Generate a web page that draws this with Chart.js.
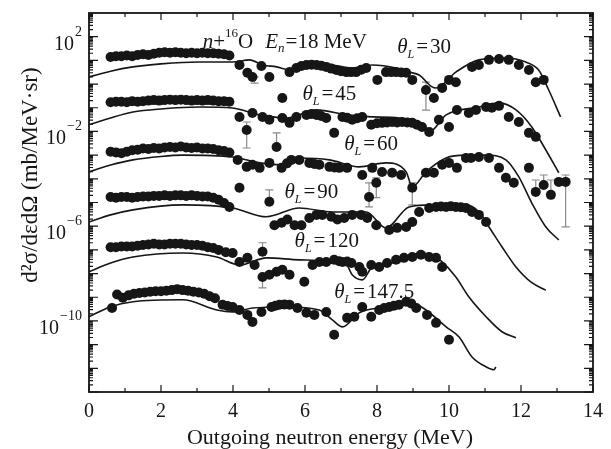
<!DOCTYPE html>
<html>
<head>
<meta charset="utf-8">
<script src="https://cdn.jsdelivr.net/npm/chart.js@4.4.1/dist/chart.umd.min.js"></script>
<style>
html, body { margin: 0; padding: 0; background: #fff; }
#wrap { width: 611px; height: 449px; }
</style>
</head>
<body>
<div id="wrap"><canvas id="c"></canvas></div>
<script>
// outgoing neutron energy (MeV) vs d2sigma/(de dOmega) (mb/MeV/sr)
const dots30 = [[0.6,14],[0.75,15],[0.9,15],[1.05,16],[1.2,15],[1.35,17],[1.5,18],[1.65,17],[1.8,19],[1.95,21],[2.1,22],[2.25,21],[2.4,22],[2.55,21],[2.7,20],[2.85,21],[3.0,20],[3.15,21],[3.3,20],[3.45,20],[3.6,19],[3.75,18],[3.9,16],
  [4.18,6.4],[4.40,3.0],[4.54,2.0],[4.79,5.8],[5.01,2.0],[5.57,3.2],[5.76,4.8],[5.9,5.8],[6.04,6.4],[6.18,6.6],[6.32,6.4],[6.45,6.0],[6.59,5.3],[6.73,4.5],[6.87,3.9],[7.0,3.5],[7.15,3.2],[7.28,3.2],[7.42,3.2],[7.56,4.0],[7.70,4.8],[8.01,1.5],[8.25,3.2],[8.39,3.2],[8.53,3.2],[8.67,3.1],[8.81,3.0],[8.98,1.5],
  [9.36,0.56],[9.58,0.26],[9.81,0.69],[10.0,1.5],[10.19,1.2],[10.64,5.3],[10.83,6.4],[11.11,10.5],[11.39,11.5],[11.66,10.5],[11.94,6.4],[12.22,3.9],[12.41,1.2],[12.63,1.5]];
const curve30 = [[0,2.0],[0.6,3.5],[1.22,5.3],[2.0,7.1],[3.07,8.5],[3.99,8.5],[4.46,10.5],[4.82,6.4],[5.21,5.3],[5.57,3.9],[6.04,7.8],[6.76,6.4],[7.31,4.8],[7.87,6.4],[8.53,4.8],[8.89,3.2],[9.17,2.4],[9.53,0.76],[9.64,0.68],[10.19,3.2],[10.83,10.5],[11.58,12.6],[12.13,8.5],[12.49,3.9],[12.77,0.56],[13.10,0.041]];

const dots45 = [[0.6,0.17],[0.75,0.18],[0.9,0.18],[1.05,0.17],[1.2,0.19],[1.35,0.18],[1.5,0.19],[1.65,0.20],[1.8,0.21],[1.95,0.20],[2.1,0.21],[2.25,0.22],[2.4,0.21],[2.55,0.22],[2.7,0.21],[2.85,0.20],[3.0,0.21],[3.15,0.20],[3.3,0.21],[3.45,0.20],[3.6,0.19],[3.75,0.19],[3.9,0.18],
  [4.18,0.041],[4.38,0.0115],[4.54,0.060],[4.82,0.041],[5.01,0.031],[5.21,0.0022],[5.37,0.26],[5.37,0.037],[5.57,0.023],[5.76,0.041],[6.04,0.050],[6.18,0.055],[6.32,0.050],[6.45,0.045],[6.59,0.037],[6.81,0.0087],[7.04,0.041],[7.17,0.038],[7.31,0.031],[7.45,0.036],[7.59,0.041],[7.84,0.019],[8.0,0.022],[8.14,0.023],[8.28,0.024],[8.42,0.025],[8.56,0.024],[8.70,0.025],[8.84,0.024],[8.98,0.023],[9.11,0.019],[9.25,0.0155],[9.45,0.0095],
  [9.72,0.031],[10.0,0.0155],[10.22,0.081],[10.55,0.060],[10.75,0.081],[11.03,0.107],[11.19,0.10],[11.39,0.12],[11.66,0.041],[11.94,0.025],[12.22,0.0087],[12.41,0.0059]];
const curve45 = [[0,0.019],[0.6,0.037],[1.22,0.066],[2.0,0.089],[3.07,0.107],[3.99,0.097],[4.74,0.050],[5.48,0.037],[6.32,0.081],[7.15,0.050],[7.87,0.041],[8.61,0.037],[9.25,0.019],[9.45,0.0095],[9.92,0.050],[10.83,0.107],[11.39,0.16],[11.86,0.081],[12.30,0.0155],[12.69,0.00165],[13.05,0.00018]];

const dots60 = [[0.6,1.4e-3],[0.75,1.3e-3],[0.9,1.2e-3],[1.05,1.4e-3],[1.2,1.6e-3],[1.35,1.7e-3],[1.5,1.9e-3],[1.65,1.8e-3],[1.8,2.0e-3],[1.95,1.9e-3],[2.1,2.1e-3],[2.25,2.2e-3],[2.4,2.1e-3],[2.55,2.3e-3],[2.7,2.1e-3],[2.85,2.0e-3],[3.0,2.1e-3],[3.15,1.9e-3],[3.3,1.9e-3],[3.45,1.8e-3],[3.6,1.6e-3],[3.75,1.5e-3],[3.9,1.3e-3],
  [4.13,6.3e-4],[4.38,3.2e-4],[4.54,3.9e-4],[4.74,2.9e-4],[5.01,4.7e-4],[5.35,2.9e-4],[5.5,4.5e-4],[5.62,6.3e-4],[5.84,6.3e-4],[6.12,4.7e-4],[6.26,4.2e-4],[6.40,3.9e-4],[6.68,3.2e-4],[6.82,3.0e-4],[6.95,2.9e-4],[7.17,2.9e-4],[7.59,1.45e-4],[7.87,2.9e-4],[8.14,1.95e-4],[8.42,1.8e-4],[8.67,1.45e-4],[8.98,4.2e-5],
  [9.36,1.8e-4],[9.58,1.8e-4],[9.81,3.9e-4],[10.0,4.7e-4],[10.22,2.9e-4],[10.47,7.6e-4],[10.61,7.6e-4],[10.83,8.3e-4],[11.11,7.6e-4],[11.39,2.9e-4],[11.58,1.1e-4],[11.80,6.8e-5],[12.22,2.9e-4],[12.41,2.8e-5],[12.63,5.5e-5],[12.83,2.1e-5],[13.05,7.4e-5],[13.24,7.4e-5]];
const curve60 = [[0,1.95e-4],[0.6,3.8e-4],[1.22,6.3e-4],[2.0,8.8e-4],[2.60,1.0e-3],[3.99,8.3e-4],[4.74,4.7e-4],[5.37,3.9e-4],[5.84,7.6e-4],[6.68,6.3e-4],[7.51,3.2e-4],[8.25,4.7e-4],[8.81,1.95e-4],[8.98,4.6e-5],[9.36,1.95e-4],[9.92,7.6e-4],[10.47,1.0e-3],[11.03,1.0e-3],[11.58,6.3e-4],[11.94,1.2e-4],[12.30,9.5e-6],[12.69,9.3e-7],[13.05,2.6e-7]];

const dots90 = [[0.6,1.7e-5],[0.75,1.6e-5],[0.9,1.7e-5],[1.05,1.7e-5],[1.2,1.6e-5],[1.35,1.7e-5],[1.5,1.8e-5],[1.65,1.8e-5],[1.8,1.9e-5],[1.95,1.9e-5],[2.1,2.0e-5],[2.25,1.9e-5],[2.4,2.0e-5],[2.55,2.0e-5],[2.7,1.9e-5],[2.85,2.0e-5],[3.0,1.9e-5],[3.15,1.8e-5],[3.3,1.8e-5],[3.45,1.6e-5],[3.6,1.3e-5],[3.75,9.5e-6],[3.9,6.5e-6],
  [4.18,4.2e-5],[5.01,1.07e-5],[5.15,1.1e-6],[5.35,1.4e-6],[5.51,1.9e-6],[5.71,1.1e-6],[5.90,1.1e-6],[6.12,2.2e-6],[6.32,3.0e-6],[6.48,3.0e-6],[6.73,2.5e-6],[6.90,1.9e-6],[7.09,2.2e-6],[7.31,3.0e-6],[7.56,3.0e-6],[7.73,2.2e-6],[7.78,1.7e-5],[7.98,6.8e-5],[7.98,1.1e-6],
  [8.34,6.9e-7],[8.56,8.5e-7],[8.81,9.3e-7],[8.98,1.5e-6],[9.17,4.0e-6],[9.45,5.9e-6],[9.64,6.5e-6],[9.78,6.8e-6],[9.92,6.5e-6],[10.05,6.9e-6],[10.19,6.5e-6],[10.33,6.3e-6],[10.47,5.9e-6],[10.64,4.0e-6],[10.83,3.0e-6],[11.03,1.5e-6]];
const curve90 = [[0,1.5e-6],[0.6,3.0e-6],[1.22,4.9e-6],[2.60,7.9e-6],[3.99,5.9e-6],[4.93,2.5e-6],[5.84,5.9e-6],[6.76,4.0e-6],[7.70,4.0e-6],[8.25,8.5e-7],[8.89,6.5e-6],[9.53,7.9e-6],[10.47,7.9e-6],[10.83,4.0e-6],[11.11,9.3e-7],[11.47,1.35e-7],[11.86,1.9e-8],[12.30,4.1e-9],[12.69,2.0e-9]];

const dots120 = [[0.6,1.3e-7],[0.75,1.3e-7],[0.9,1.4e-7],[1.05,1.4e-7],[1.2,1.4e-7],[1.35,1.5e-7],[1.5,1.6e-7],[1.65,1.7e-7],[1.8,1.8e-7],[1.95,1.7e-7],[2.1,1.7e-7],[2.25,1.8e-7],[2.4,1.8e-7],[2.55,1.8e-7],[2.7,1.7e-7],[2.85,1.6e-7],[3.0,1.6e-7],[3.15,1.5e-7],[3.3,1.3e-7],[3.45,1.2e-7],[3.6,1.0e-7],[3.8,8.0e-8],
  [3.99,7.4e-8],[4.18,3.1e-8],[4.40,4.6e-8],[4.60,2.3e-8],[4.82,8.3e-8],[4.82,7.2e-9],[5.01,8.9e-9],[5.21,1.2e-8],[5.37,1.45e-8],[5.57,8.9e-9],[5.98,4.5e-9],[6.21,2.3e-8],[6.40,3.1e-8],[6.59,3.1e-8],[6.81,3.8e-8],[6.95,3.3e-8],[7.04,3.1e-8],[7.17,3.2e-8],[7.29,2.8e-8],[7.51,1.9e-8],[7.59,1.2e-8],[7.84,2.3e-8],[8.06,1.9e-8],[8.28,2.8e-8],[8.53,3.8e-8],[8.75,4.6e-8],[8.98,5.0e-8],[9.22,6.2e-8],[9.45,5.0e-8],[9.64,4.6e-8],[9.81,1.9e-8]];
const curve120 = [[0,1.2e-8],[0.6,2.8e-8],[1.22,5.0e-8],[2.60,7.4e-8],[3.55,5.0e-8],[4.18,2.3e-8],[4.93,4.6e-8],[5.84,3.8e-8],[7.15,2.3e-8],[7.31,8.9e-9],[7.59,5.4e-9],[7.87,1.9e-8],[8.61,3.1e-8],[9.17,7.4e-8],[9.53,6.2e-8],[9.81,3.1e-8],[10.19,7.2e-9],[10.55,1.05e-9],[11.03,1.5e-10],[11.47,3.5e-11],[11.86,1.95e-11]];

const dots147 = [[0.64,3.5e-10],[0.78,1.3e-9],[0.94,9.5e-10],[1.1,1.2e-9],[1.25,1.4e-9],[1.4,1.5e-9],[1.55,1.6e-9],[1.7,1.7e-9],[1.85,1.8e-9],[2.0,1.8e-9],[2.15,1.9e-9],[2.3,2.0e-9],[2.45,2.2e-9],[2.6,2.0e-9],[2.75,1.9e-9],[2.9,1.7e-9],[3.05,1.6e-9],[3.2,1.4e-9],[3.35,1.1e-9],[3.5,9.0e-10],[3.71,4.8e-10],[3.85,4.3e-10],[3.99,3.9e-10],
  [4.18,2.9e-10],[4.40,1.8e-10],[4.54,9.1e-11],[4.79,2.4e-10],[5.07,3.9e-10],[5.18,4.4e-10],[5.29,4.8e-10],[5.43,5.0e-10],[5.57,4.8e-10],[5.79,3.5e-10],[6.04,2.2e-10],[6.26,1.8e-10],[6.59,2.4e-10],[6.81,2.6e-11],[7.17,1.35e-10],[7.37,1.5e-10],[7.59,3.9e-10],[7.84,1.5e-10],[8.06,2.9e-10],[8.2,3.5e-10],[8.34,3.9e-10],[8.47,4.4e-10],[8.61,4.8e-10],[8.81,6.5e-10],[8.95,5.5e-10],[9.09,3.5e-10],[9.39,1.8e-10],[9.64,8.3e-11],[10.0,1.6e-11]];
const curve147 = [[0,1.5e-10],[0.58,3.9e-10],[1.22,6.5e-10],[2.60,7.8e-10],[3.55,2.9e-10],[3.99,2.4e-10],[4.54,3.5e-10],[5.48,3.9e-10],[6.40,2.9e-10],[6.76,1.1e-10],[7.04,5.6e-11],[7.51,2.2e-10],[8.25,3.9e-10],[8.89,6.5e-10],[9.36,2.9e-10],[9.92,5.6e-11],[10.28,2.1e-11],[10.64,3.0e-12],[11.03,1.15e-12],[11.25,8.7e-13],[11.30,1.15e-12]];

// [energy, low, high]
const errBars = [[4.6,1.1,2.0],[9.36,0.08,1.2],[4.38,2.0e-3,2.5e-2],[5.21,2.2e-3,8.7e-3],[8.98,8.0e-6,6.8e-5],
  [12.41,2.8e-5,8.9e-5],[12.63,5.5e-5,1.45e-4],[12.83,2.1e-5,8.9e-5],[13.24,9.3e-7,1.45e-4],
  [5.01,1.07e-5,3.4e-5],[7.78,6.5e-6,6.8e-5],[7.98,1.6e-5,1.1e-4],[4.82,8.3e-8,2.0e-7],[4.82,2.5e-9,7.2e-9]];

const angles = ['30', '45', '60', '90', '120', '147.5'];
const angleLabelAt = [[8.56,20.4],[5.93,0.213],[7.09,1.66e-3],[5.43,1.55e-5],[5.71,1.32e-7],[6.81,9.3e-10]];
const titleAt = [3.16, 33];
const yTickExps = [2, -2, -6, -10];

const ink = '#161616';
const serif = '"Liberation Serif", "Times New Roman", serif';
const toXY = arr => arr.map(p => ({x: p[0], y: p[1]}));

const dotSets = [dots30, dots45, dots60, dots90, dots120, dots147];
const curveSets = [curve30, curve45, curve60, curve90, curve120, curve147];

let datasets = [];
curveSets.forEach(c => datasets.push({
  data: toXY(c), showLine: true, pointRadius: 0, borderColor: ink, borderWidth: 1.6,
  cubicInterpolationMode: 'monotone', fill: false
}));
dotSets.forEach(d => datasets.push({
  data: toXY(d), showLine: false, pointRadius: 5, pointBackgroundColor: ink, pointBorderWidth: 0
}));

function drawParts(ctx, x, y, parts) {
  for (const p of parts) {
    ctx.font = p.font;
    ctx.fillText(p.t, x, y + (p.dy || 0));
    x += ctx.measureText(p.t).width + (p.gap || 0);
  }
}

const decorations = {
  id: 'decorations',
  beforeDatasetsDraw(chart) {
    // error bars behind the dots
    const ctx = chart.ctx, xs = chart.scales.x, ys = chart.scales.y;
    ctx.save();
    ctx.strokeStyle = '#8a8a8a';
    ctx.lineWidth = 1.2;
    errBars.forEach(b => {
      const px = xs.getPixelForValue(b[0]);
      const y1 = ys.getPixelForValue(b[1]), y2 = ys.getPixelForValue(b[2]);
      ctx.beginPath();
      ctx.moveTo(px, y1); ctx.lineTo(px, y2);
      ctx.moveTo(px - 4, y1); ctx.lineTo(px + 4, y1);
      ctx.moveTo(px - 4, y2); ctx.lineTo(px + 4, y2);
      ctx.stroke();
    });
    ctx.restore();
  },
  afterDraw(chart) {
    const ctx = chart.ctx, xs = chart.scales.x, ys = chart.scales.y, a = chart.chartArea;
    ctx.save();
    ctx.strokeStyle = ink;
    ctx.fillStyle = ink;

    // inward ticks
    ctx.lineWidth = 1.2;
    ctx.beginPath();
    for (let v = 0; v <= 14; v++) {
      const px = xs.getPixelForValue(v), len = v % 2 ? 4 : 7;
      ctx.moveTo(px, a.bottom); ctx.lineTo(px, a.bottom - len);
      ctx.moveTo(px, a.top); ctx.lineTo(px, a.top + len);
    }
    for (let e = -13; e <= 2; e++) {
      for (let m = 1; m < 10; m++) {
        const py = ys.getPixelForValue(m * Math.pow(10, e)), len = m === 1 ? 9 : 4;
        ctx.moveTo(a.left, py); ctx.lineTo(a.left + len, py);
        ctx.moveTo(a.right, py); ctx.lineTo(a.right - len, py);
      }
    }
    ctx.stroke();

    ctx.lineWidth = 1.8;
    ctx.strokeRect(a.left, a.top, a.right - a.left, a.bottom - a.top);

    // y tick labels 10^n
    ctx.textBaseline = 'alphabetic';
    yTickExps.forEach(e => {
      const py = ys.getPixelForValue(Math.pow(10, e));
      const ex = e < 0 ? '\u2212' + (-e) : String(e);
      ctx.font = '14px ' + serif;
      const w = ctx.measureText(ex).width;
      ctx.textAlign = 'left';
      ctx.fillText(ex, 82 - w, py - 1);
      ctx.font = '20px ' + serif;
      ctx.textAlign = 'right';
      ctx.fillText('10', 81 - w, py + 13);
    });

    // axis titles
    ctx.textAlign = 'center';
    ctx.font = '22px ' + serif;
    ctx.fillText('Outgoing neutron energy (MeV)', 330, 444);
    ctx.save();
    ctx.translate(37, 175);
    ctx.rotate(-Math.PI / 2);
    ctx.font = '23px ' + serif;
    ctx.fillText('d\u00b2\u03c3/d\u03b5d\u03a9 (mb/MeV\u00b7sr)', 0, 0);
    ctx.restore();

    // annotations
    ctx.textAlign = 'left';
    const big = '21px ' + serif, ital = 'italic 21px ' + serif;
    const t = titleAt;
    drawParts(ctx, xs.getPixelForValue(t[0]), ys.getPixelForValue(t[1]), [
      {t: 'n', font: ital}, {t: '+', font: big}, {t: '16', font: '13px ' + serif, dy: -11},
      {t: 'O', font: big, gap: 12}, {t: 'E', font: ital}, {t: 'n', font: 'italic 13px ' + serif, dy: 4, gap: 1},
      {t: '=18 MeV', font: big}
    ]);
    angles.forEach((ang, i) => {
      const p = angleLabelAt[i];
      drawParts(ctx, xs.getPixelForValue(p[0]), ys.getPixelForValue(p[1]), [
        {t: '\u03b8', font: ital}, {t: 'L', font: 'italic 12px ' + serif, dy: 5, gap: 2},
        {t: '=', font: big, gap: 2}, {t: ang, font: big}
      ]);
    });
    ctx.restore();
  }
};

new Chart(document.getElementById('c'), {
  type: 'scatter',
  data: { datasets },
  options: {
    responsive: true,
    maintainAspectRatio: false,
    animation: false,
    layout: { padding: { top: 13, right: 16, left: 0, bottom: 0 } },
    plugins: { legend: { display: false }, tooltip: { enabled: false } },
    scales: {
      x: {
        type: 'linear', min: 0, max: 14,
        grid: { display: false, drawTicks: false },
        border: { display: false },
        ticks: { stepSize: 2, padding: 8, color: ink, font: { family: serif, size: 20 } },
        afterFit: s => { s.height = 57; }
      },
      y: {
        type: 'logarithmic', min: 1e-13, max: 1e3,
        grid: { display: false, drawTicks: false },
        border: { display: false },
        ticks: { display: false },
        afterFit: s => { s.width = 89; }
      }
    }
  },
  plugins: [decorations]
});
</script>
</body>
</html>
